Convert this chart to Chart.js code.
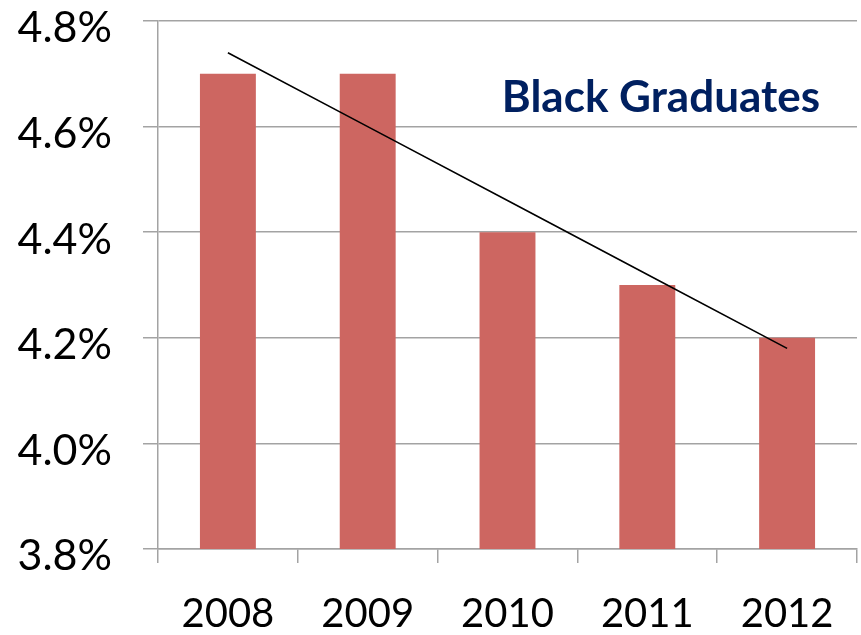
<!DOCTYPE html>
<html>
<head>
<meta charset="utf-8">
<script src="https://cdn.jsdelivr.net/npm/chart.js@4/dist/chart.umd.min.js"></script>
<style>
  html, body { margin: 0; padding: 0; background: #ffffff; }
  #wrap { width: 861px; height: 635px; position: relative; }
</style>
</head>
<body>
<div id="wrap"><canvas id="c"></canvas></div>
<script>
const categories = ['2008', '2009', '2010', '2011', '2012'];
const graduateShare = [4.7, 4.7, 4.4, 4.3, 4.2];
const trendValues = [4.74, 4.60, 4.46, 4.32, 4.18];
const yTickMin = 3.8;
const yTickMax = 4.8;
const yTickStep = 0.2;
const chartTitle = 'Black Graduates';

const FONT = 'Lato, "Open Sans", "DejaVu Sans", sans-serif';
const GRID = '#A3A3A3';

const titlePlugin = {
  id: 'insideTitle',
  afterDatasetsDraw(chart) {
    const { ctx, chartArea } = chart;
    ctx.save();
    ctx.font = 'bold 44px ' + FONT;
    ctx.fillStyle = '#002060';
    ctx.textAlign = 'right';
    ctx.textBaseline = 'alphabetic';
    ctx.fillText(chartTitle, chartArea.right - 37, chartArea.top + 91);
    ctx.restore();
  }
};

new Chart(document.getElementById('c'), {
  type: 'bar',
  data: {
    labels: categories,
    datasets: [
      {
        type: 'line',
        data: trendValues,
        borderColor: '#000000',
        borderWidth: 1.6,
        pointRadius: 0,
        fill: false,
        tension: 0,
        order: 0
      },
      {
        type: 'bar',
        data: graduateShare,
        backgroundColor: '#CD6661',
        borderWidth: 0,
        barPercentage: 0.4,
        categoryPercentage: 1.0,
        order: 1
      }
    ]
  },
  options: {
    responsive: true,
    maintainAspectRatio: false,
    animation: false,
    layout: { padding: { top: 21, right: 4, left: 0, bottom: 0 } },
    plugins: {
      legend: { display: false },
      tooltip: { enabled: false },
      title: { display: false }
    },
    scales: {
      x: {
        offset: true,
        grid: {
          offset: true,
          drawOnChartArea: false,
          drawTicks: true,
          tickLength: 14,
          color: GRID,
          lineWidth: 1.5
        },
        border: { display: true, color: GRID, width: 1.5 },
        ticks: {
          color: '#000000',
          font: { family: FONT, size: 40 },
          padding: 27,
          maxRotation: 0,
          autoSkip: false
        },
        afterFit(scale) {
          scale.height = 86;
          scale.paddingLeft = 0; scale.paddingRight = 0;
          scale.paddingTop = 0; scale.paddingBottom = 0;
        }
      },
      y: {
        min: yTickMin,
        max: yTickMax,
        grid: {
          color: GRID,
          lineWidth: 1.5,
          drawTicks: true,
          tickLength: 15
        },
        border: { display: true, color: GRID, width: 1.5 },
        ticks: {
          stepSize: yTickStep,
          color: '#000000',
          font: { family: FONT, size: 43, lineHeight: 0.35 },
          padding: 31,
          callback: (v) => ['', Number(v).toFixed(1) + '%']
        },
        afterFit(scale) {
          scale.width = 158;
          scale.paddingLeft = 0; scale.paddingRight = 0;
          scale.paddingTop = 0; scale.paddingBottom = 0;
        }
      }
    }
  },
  plugins: [titlePlugin]
});
</script>
</body>
</html>
